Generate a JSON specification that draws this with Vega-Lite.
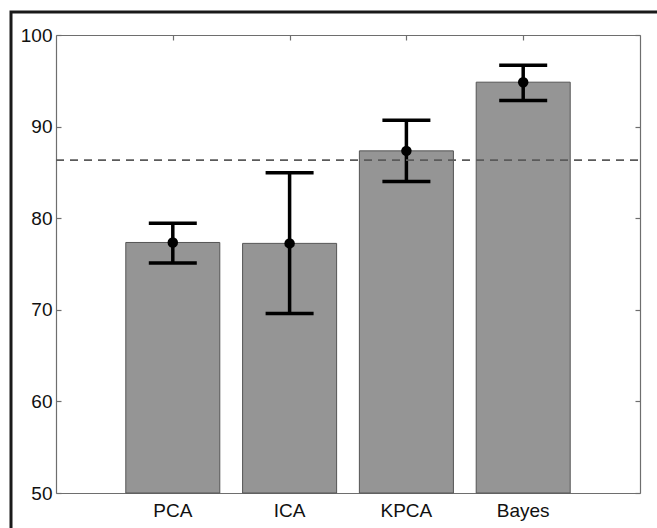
{
  "$schema": "https://vega.github.io/schema/vega-lite/v6.json",
  "width": 646,
  "height": 516,
  "autosize": {"type": "none"},
  "padding": {"left": 11, "top": 12, "right": 0, "bottom": 0},
  "background": "white",
  "config": {
    "view": {"stroke": "#1a1a1a", "strokeWidth": 3, "strokeDash": [646, 1162, 516], "fill": "white"},
    "axis": {
      "labelFont": "Liberation Sans",
      "labelFontSize": 19,
      "labelColor": "#111111",
      "domainColor": "#6e6e6e",
      "domainWidth": 1.2,
      "tickColor": "#6e6e6e",
      "tickWidth": 1.2,
      "grid": false,
      "title": null
    }
  },
  "datasets": {
    "methods": [
      {"method": "PCA", "accuracy": 77.35, "lower": 75.1, "upper": 79.45},
      {"method": "ICA", "accuracy": 77.25, "lower": 69.6, "upper": 84.95},
      {"method": "KPCA", "accuracy": 87.35, "lower": 84.0, "upper": 90.7},
      {"method": "Bayes", "accuracy": 94.85, "lower": 92.85, "upper": 96.7}
    ],
    "chance": [{"level": 86.35}]
  },
  "layer": [
    {
      "data": {"name": "methods"},
      "encoding": {
        "x": {
          "field": "method",
          "type": "nominal",
          "sort": null,
          "scale": {"type": "band", "range": [45, 629], "paddingInner": 0.195, "paddingOuter": 0.5975},
          "axis": {"orient": "bottom", "offset": -35, "ticks": false, "tickSize": 0, "labelPadding": 8, "labelAngle": 0, "domain": true}
        }
      },
      "layer": [
        {
          "mark": {"type": "bar", "fill": "#959595", "stroke": "#555555", "strokeWidth": 1},
          "encoding": {
            "y": {
              "field": "accuracy",
              "type": "quantitative",
              "scale": {"domain": [50, 100], "range": [481, 23], "zero": false, "nice": false},
              "axis": {"orient": "left", "offset": -45, "values": [50, 60, 70, 80, 90, 100], "labelPadding": 9, "tickSize": -5}
            },
            "y2": {"datum": 50}
          }
        },
        {
          "mark": {"type": "rule", "color": "black", "strokeWidth": 3.5},
          "encoding": {
            "y": {"field": "lower", "type": "quantitative"},
            "y2": {"field": "upper"}
          }
        },
        {
          "mark": {"type": "tick", "color": "black", "size": 48, "thickness": 3.5, "opacity": 1},
          "encoding": {"y": {"field": "lower", "type": "quantitative"}}
        },
        {
          "mark": {"type": "tick", "color": "black", "size": 48, "thickness": 3.5, "opacity": 1},
          "encoding": {"y": {"field": "upper", "type": "quantitative"}}
        },
        {
          "mark": {"type": "point", "filled": true, "color": "black", "size": 110, "opacity": 1},
          "encoding": {"y": {"field": "accuracy", "type": "quantitative"}}
        }
      ]
    },
    {
      "data": {"name": "chance"},
      "mark": {"type": "rule", "strokeDash": [8, 6], "color": "#5a5a5a", "strokeWidth": 1.8},
      "encoding": {
        "x": {
          "datum": 0,
          "type": "quantitative",
          "scale": {"domain": [0, 1], "range": [45, 629], "nice": false, "zero": false},
          "axis": {"orient": "top", "offset": -23, "values": [0.2, 0.4, 0.6, 0.8], "labels": false, "tickSize": -5}
        },
        "x2": {"datum": 1},
        "y": {
          "field": "level",
          "type": "quantitative",
          "scale": {"domain": [50, 100], "range": [481, 23], "zero": false, "nice": false},
          "axis": {"orient": "right", "offset": -17, "values": [50, 60, 70, 80, 90, 100], "labels": false, "tickSize": -5}
        }
      }
    }
  ],
  "resolve": {"scale": {"x": "independent"}, "axis": {"x": "independent", "y": "independent"}}
}
